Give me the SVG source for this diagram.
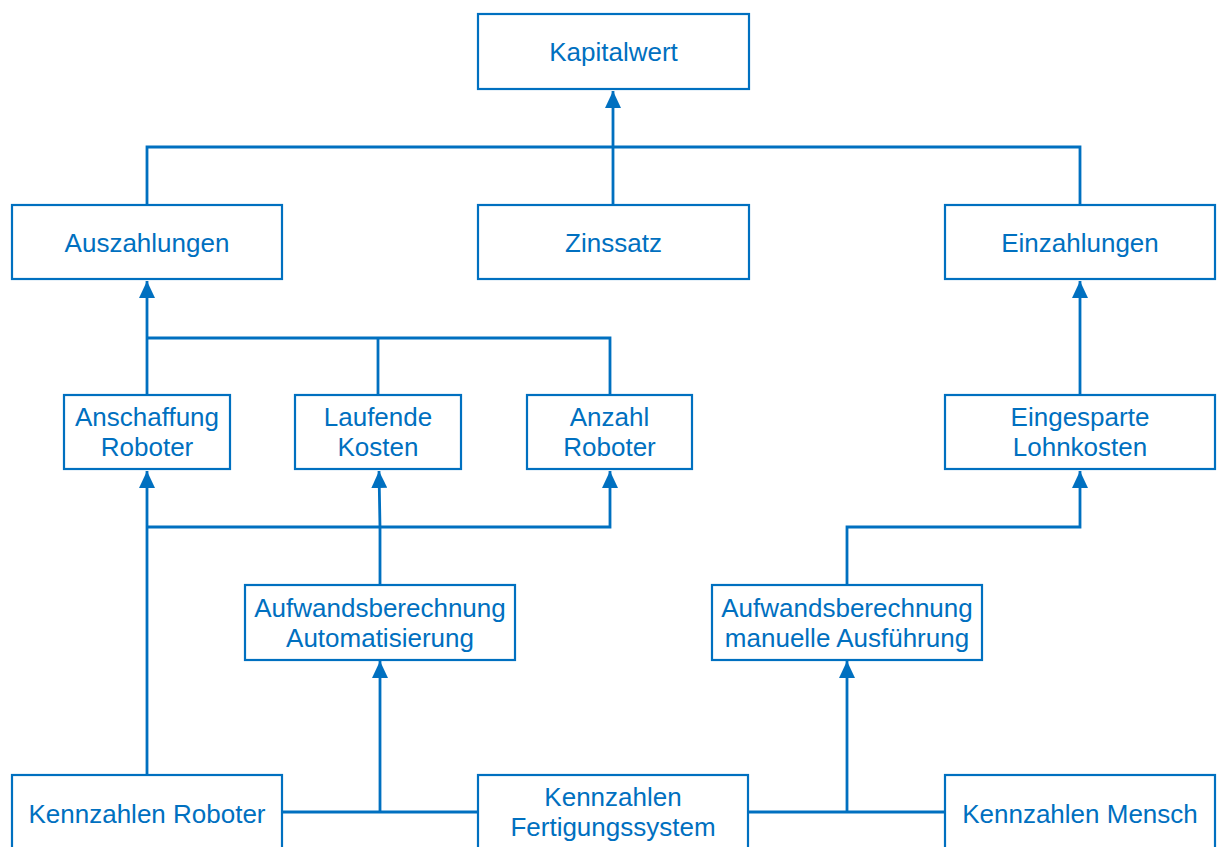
<svg xmlns="http://www.w3.org/2000/svg" width="1217" height="847" viewBox="0 0 1217 847">
  <style>
    .box { fill: #ffffff; stroke: #0070C0; stroke-width: 2.2; }
    .lbl { font-family: "Liberation Sans", Arial, sans-serif; font-size: 26px; fill: #0070C0; text-anchor: middle; }
    .wire { fill: none; stroke: #0070C0; stroke-width: 2.8; }
  </style>
  <defs>
    <marker id="head" viewBox="0 0 17 16" refX="17" refY="8" markerWidth="17" markerHeight="16" markerUnits="userSpaceOnUse" orient="auto">
      <path d="M0 0 L17 8 L0 16 Z" fill="#0070C0"/>
    </marker>
  </defs>
  <rect width="1217" height="847" fill="#ffffff"/>

  <g id="connectors">
    <!-- top level -->
    <path class="wire" d="M613 204 V91" marker-end="url(#head)"/>
    <path class="wire" d="M147 204 V147 H1080 V204"/>
    <!-- Auszahlungen inputs -->
    <path class="wire" d="M147 394 V281" marker-end="url(#head)"/>
    <path class="wire" d="M147 338 H610 V394"/>
    <path class="wire" d="M378 338 V394"/>
    <!-- Einzahlungen input -->
    <path class="wire" d="M1080 394 V281" marker-end="url(#head)"/>
    <!-- middle level -->
    <path class="wire" d="M147 774 V471" marker-end="url(#head)"/>
    <path class="wire" d="M147 527 H610 V471" marker-end="url(#head)"/>
    <path class="wire" d="M380 584 V527 L379 471" marker-end="url(#head)"/>
    <path class="wire" d="M847 584 V527 H1080 V471" marker-end="url(#head)"/>
    <!-- bottom level -->
    <path class="wire" d="M283 812 H478"/>
    <path class="wire" d="M380 812 V661" marker-end="url(#head)"/>
    <path class="wire" d="M749 812 H945"/>
    <path class="wire" d="M847 812 V661" marker-end="url(#head)"/>
  </g>

  <g id="kapitalwert">
    <rect class="box" x="478" y="14" width="271" height="75"/>
    <text class="lbl" x="613.5" y="61">Kapitalwert</text>
  </g>
  <g id="auszahlungen">
    <rect class="box" x="12" y="205" width="270" height="74"/>
    <text class="lbl" x="147" y="252">Auszahlungen</text>
  </g>
  <g id="zinssatz">
    <rect class="box" x="478" y="205" width="271" height="74"/>
    <text class="lbl" x="613.5" y="252">Zinssatz</text>
  </g>
  <g id="einzahlungen">
    <rect class="box" x="945" y="205" width="270" height="74"/>
    <text class="lbl" x="1080" y="252">Einzahlungen</text>
  </g>
  <g id="anschaffung-roboter">
    <rect class="box" x="64" y="395" width="166" height="74"/>
    <text class="lbl" x="147" y="426">Anschaffung</text>
    <text class="lbl" x="147" y="456">Roboter</text>
  </g>
  <g id="laufende-kosten">
    <rect class="box" x="295" y="395" width="166" height="74"/>
    <text class="lbl" x="378" y="426">Laufende</text>
    <text class="lbl" x="378" y="456">Kosten</text>
  </g>
  <g id="anzahl-roboter">
    <rect class="box" x="527" y="395" width="165" height="74"/>
    <text class="lbl" x="609.5" y="426">Anzahl</text>
    <text class="lbl" x="609.5" y="456">Roboter</text>
  </g>
  <g id="eingesparte-lohnkosten">
    <rect class="box" x="945" y="395" width="270" height="74"/>
    <text class="lbl" x="1080" y="426">Eingesparte</text>
    <text class="lbl" x="1080" y="456">Lohnkosten</text>
  </g>
  <g id="aufwand-automatisierung">
    <rect class="box" x="245" y="585" width="270" height="75"/>
    <text class="lbl" x="380" y="617">Aufwandsberechnung</text>
    <text class="lbl" x="380" y="647">Automatisierung</text>
  </g>
  <g id="aufwand-manuell">
    <rect class="box" x="712" y="585" width="270" height="75"/>
    <text class="lbl" x="847" y="617">Aufwandsberechnung</text>
    <text class="lbl" x="847" y="647">manuelle Ausführung</text>
  </g>
  <g id="kennzahlen-roboter">
    <rect class="box" x="12" y="775" width="270" height="75"/>
    <text class="lbl" x="147" y="823">Kennzahlen Roboter</text>
  </g>
  <g id="kennzahlen-fertigungssystem">
    <rect class="box" x="478" y="775" width="270" height="75"/>
    <text class="lbl" x="613" y="806">Kennzahlen</text>
    <text class="lbl" x="613" y="836">Fertigungssystem</text>
  </g>
  <g id="kennzahlen-mensch">
    <rect class="box" x="945" y="775" width="270" height="75"/>
    <text class="lbl" x="1080" y="823">Kennzahlen Mensch</text>
  </g>
</svg>
